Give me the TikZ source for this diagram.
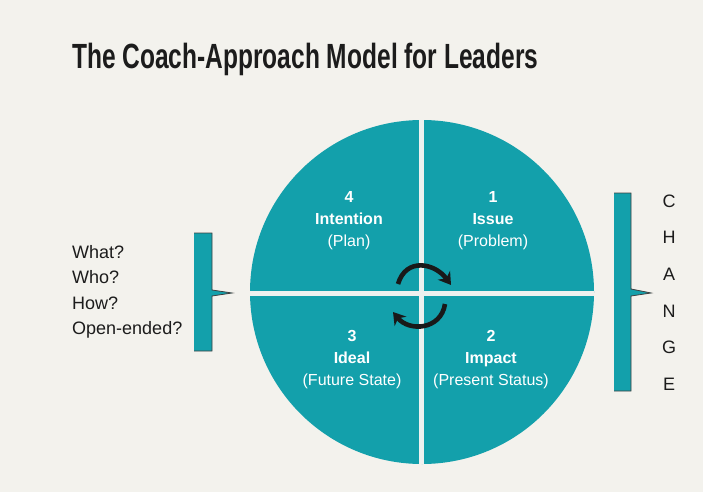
\documentclass[tikz,border=0pt]{standalone}
\usepackage{fontspec}
\setmainfont{Liberation Sans}
\usepackage{graphicx}
\usetikzlibrary{arrows.meta,positioning}
\definecolor{coachteal}{RGB}{19,160,171}
\definecolor{paper}{RGB}{243,242,237}
\definecolor{gapwhite}{RGB}{238,241,239}
\definecolor{ink}{RGB}{28,28,28}

\begin{document}
\begin{tikzpicture}[x=1pt, y=-1pt,
					quadrant/.style={text=white, align=center, inner sep=0pt, font=\fontsize{16}{22}\selectfont},
					bracket/.style={fill=coachteal},
					rim/.style={draw=black!75, line width=0.8pt},
					swirl/.style={draw=black!90, line width=4.6pt, -{Stealth[length=12pt,width=15pt]}}]

	\fill[paper] (0,0) rectangle (703,492);
	\useasboundingbox (0,0) rectangle (703,492);

	\node[anchor=base west, inner sep=0pt, text=ink, font=\fontsize{35}{40}\selectfont\bfseries] (title) at (72,69)
		{\resizebox{466pt}{\height}{The Coach-Approach Model for Leaders}};

	% circle cut in four
	\fill[coachteal] (422,292) circle (172pt);
	\begin{scope}
		\clip (422,292) circle (172pt);
		\draw[gapwhite, line width=5.5pt] (421.5,110) -- (421.5,470);
		\draw[gapwhite, line width=5pt] (240,293.5) -- (600,293.5);
	\end{scope}

	\node[quadrant] (intention) at (349,221) {\textbf{4}\\\textbf{Intention}\\(Plan)};
	\node[quadrant] (issue) at (493,221) {\textbf{1}\\\textbf{Issue}\\(Problem)};
	\node[quadrant] (ideal) at (352,360) {\textbf{3}\\\textbf{Ideal}\\(Future State)};
	\node[quadrant] (impact) at (491,360) {\textbf{2}\\\textbf{Impact}\\(Present Status)};

	% turning arrows in the middle
	\coordinate (topfrom) at (398,284);
	\coordinate (topto) at (451,285);
	\coordinate (lowfrom) at (445,304);
	\coordinate (lowto) at (393,312);
	\draw[swirl] (topfrom) .. controls +(8,-27) and +(-16,-22) .. (topto);
	\draw[swirl] (lowfrom) .. controls +(-4,26) and +(16,20) .. (lowto);

	% brackets
	\path[bracket] (194,233) -- (212,233) -- (212,290) -- (232,293) -- (212,296) -- (212,351) -- (194,351) -- cycle;
	\draw[rim] (194,233) -- (212,233) -- (212,290) -- (232,293) -- (212,296) -- (212,351) -- (194,351);
	\path[bracket] (614,193) -- (631,193) -- (631,289) -- (651,293) -- (631,296) -- (631,391) -- (614,391) -- cycle;
	\draw[rim] (614,193) -- (631,193) -- (631,289) -- (651,293) -- (631,296) -- (631,391) -- (614,391);

	\node[anchor=west, align=left, inner sep=0pt, text=ink, font=\fontsize{18}{25.5}\selectfont] (questions) at (72,292)
		{What?\\Who?\\How?\\Open-ended?};
	\node[align=center, inner sep=0pt, text=ink, font=\fontsize{18}{36.6}\selectfont] (change) at (669,292.5)
		{C\\H\\A\\N\\G\\E};
\end{tikzpicture}
\end{document}
